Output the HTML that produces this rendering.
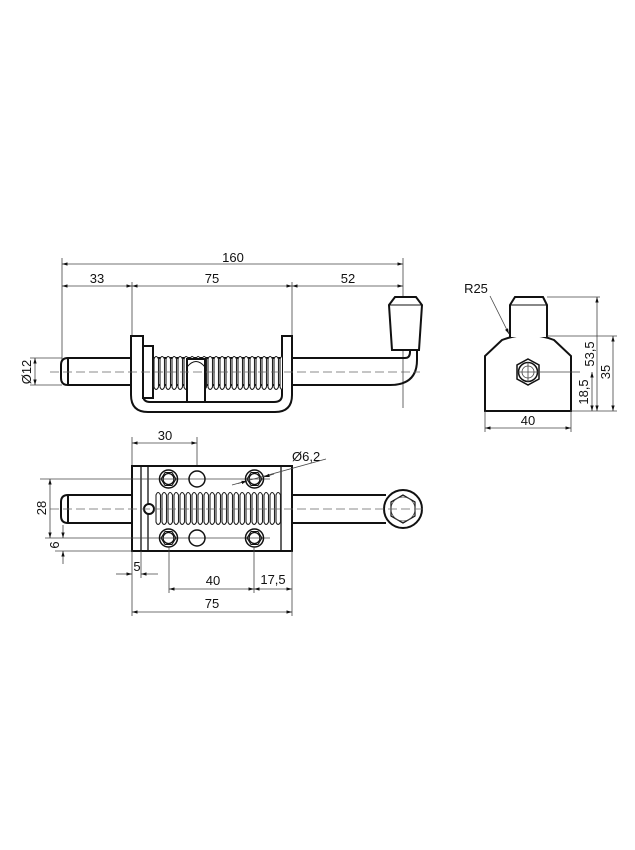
<!DOCTYPE html>
<html><head><meta charset="utf-8"><style>
html,body{margin:0;padding:0;background:#fff}
svg{display:block}
text{font-family:"Liberation Sans",sans-serif;font-size:13px;fill:#111}
.k{stroke:#111;stroke-width:2;fill:none}
.kf{stroke:#111;stroke-width:2;fill:#fff}
.t{stroke:#444;stroke-width:0.8;fill:none}
.c{stroke:#666;stroke-width:0.8;fill:none;stroke-dasharray:9 4}
</style></head><body>
<svg width="635" height="850" viewBox="0 0 635 850" xmlns="http://www.w3.org/2000/svg">
<defs>
<marker id="a" viewBox="0 0 10 10" refX="10" refY="5" markerWidth="7" markerHeight="7" orient="auto-start-reverse"><path d="M0,2 L10,5 L0,8 z" fill="#111"/></marker>
<pattern id="sp1" x="153" y="355" width="6" height="36" patternUnits="userSpaceOnUse"><path d="M1,4 Q3,-1 5.5,4 L5.5,32 Q3,37 1,32 Z" stroke="#222" stroke-width="1.1" fill="#fff"/></pattern>
<pattern id="sp2" x="155" y="491" width="6" height="35" patternUnits="userSpaceOnUse"><path d="M1,4 Q3,-1 5.5,4 L5.5,31 Q3,36 1,31 Z" stroke="#222" stroke-width="1.1" fill="#fff"/></pattern>
</defs>

<!-- ===== TOP VIEW ===== -->
<line class="t" x1="62" y1="258" x2="62" y2="360"/>
<line class="t" x1="403" y1="258" x2="403" y2="408"/>
<line class="t" x1="132" y1="282" x2="132" y2="336"/>
<line class="t" x1="292" y1="282" x2="292" y2="336"/>
<line class="t" x1="62" y1="264" x2="403" y2="264" marker-start="url(#a)" marker-end="url(#a)"/>
<text x="233" y="262" text-anchor="middle">160</text>
<line class="t" x1="62" y1="286" x2="132" y2="286" marker-start="url(#a)" marker-end="url(#a)"/>
<line class="t" x1="132" y1="286" x2="292" y2="286" marker-start="url(#a)" marker-end="url(#a)"/>
<line class="t" x1="292" y1="286" x2="403" y2="286" marker-start="url(#a)" marker-end="url(#a)"/>
<text x="97" y="283" text-anchor="middle">33</text>
<text x="212" y="283" text-anchor="middle">75</text>
<text x="348" y="283" text-anchor="middle">52</text>
<!-- Ø12 -->
<line class="t" x1="30" y1="358" x2="62" y2="358"/>
<line class="t" x1="30" y1="385" x2="62" y2="385"/>
<line class="t" x1="35" y1="358" x2="35" y2="385" marker-start="url(#a)" marker-end="url(#a)"/>
<text transform="translate(31,372) rotate(-90)" text-anchor="middle">Ø12</text>
<!-- pin + handle -->
<path class="k" d="M68,358 L405,358 Q410,358 410,352 L410,350 M68,385 L390,385 Q417,385 417,360 L417,350 M68,358 Q61,358 61,365 L61,378 Q61,385 68,385 M68,358 L68,385"/>
<path class="kf" d="M389,305 L395,297 L416,297 L422,305 L419,350 L392,350 Z"/>
<line class="k" x1="389" y1="305" x2="422" y2="305" style="stroke-width:1"/>
<!-- bracket -->
<path class="kf" d="M131,336 L143,336 L143,395 Q143,402 150,402 L274,402 Q282,402 282,395 L282,336 L292,336 L292,395 Q292,412 275,412 L148,412 Q131,412 131,395 Z"/>
<rect class="kf" x="143" y="346" width="10" height="52"/>
<rect x="153" y="355" width="129" height="36" fill="url(#sp1)" stroke="none"/>
<rect class="kf" x="187" y="359" width="18" height="43"/>
<path class="k" d="M187,367 Q196,356 205,367" style="stroke-width:1"/>
<line class="c" x1="50" y1="372" x2="420" y2="372"/>

<!-- ===== BOTTOM VIEW ===== -->
<line class="t" x1="132" y1="437" x2="132" y2="466"/>
<line class="t" x1="197" y1="437" x2="197" y2="470"/>
<line class="t" x1="132" y1="443" x2="197" y2="443" marker-start="url(#a)" marker-end="url(#a)"/>
<text x="165" y="440" text-anchor="middle">30</text>
<!-- pin -->
<path class="k" d="M68,495 L132,495 M68,523 L132,523 M68,495 Q61,495 61,502 L61,516 Q61,523 68,523 M68,495 L68,523 M292,495 L386,495 M292,523 L386,523"/>
<circle class="kf" cx="403" cy="509" r="19"/>
<polygon class="k" points="403,495 415,502 415,516 403,523 391,516 391,502" style="stroke-width:1.2"/>
<circle class="t" cx="403" cy="509" r="12"/>
<!-- body -->
<rect class="kf" x="132" y="466" width="160" height="85"/>
<line class="k" x1="141" y1="466" x2="141" y2="551" style="stroke-width:1.3"/>
<line class="k" x1="148" y1="466" x2="148" y2="551" style="stroke-width:1.3"/>
<line class="k" x1="281" y1="466" x2="281" y2="551" style="stroke-width:1.3"/>
<rect x="155" y="491" width="126" height="35" fill="url(#sp2)" stroke="none"/>
<circle class="kf" cx="149" cy="509" r="5"/>
<line class="c" x1="50" y1="509" x2="425" y2="509"/>
<line class="t" x1="40" y1="479" x2="270" y2="479"/>
<line class="t" x1="45" y1="538" x2="270" y2="538"/>
<!-- holes -->
<g>
<circle class="k" cx="168.5" cy="479" r="9" style="stroke-width:1.5"/><polygon class="k" points="161,479 165,472.5 172,472.5 176,479 172,485.5 165,485.5" style="stroke-width:1"/><circle class="k" cx="168.5" cy="479" r="5.5" style="stroke-width:1.3"/>
<circle class="k" cx="254.5" cy="479" r="9" style="stroke-width:1.5"/><polygon class="k" points="247,479 251,472.5 258,472.5 262,479 258,485.5 251,485.5" style="stroke-width:1"/><circle class="k" cx="254.5" cy="479" r="5.5" style="stroke-width:1.3"/>
<circle class="k" cx="168.5" cy="538" r="9" style="stroke-width:1.5"/><polygon class="k" points="161,538 165,531.5 172,531.5 176,538 172,544.5 165,544.5" style="stroke-width:1"/><circle class="k" cx="168.5" cy="538" r="5.5" style="stroke-width:1.3"/>
<circle class="k" cx="254.5" cy="538" r="9" style="stroke-width:1.5"/><polygon class="k" points="247,538 251,531.5 258,531.5 262,538 258,544.5 251,544.5" style="stroke-width:1"/><circle class="k" cx="254.5" cy="538" r="5.5" style="stroke-width:1.3"/>
<circle class="k" cx="197" cy="479" r="8" style="stroke-width:1.5"/>
<circle class="k" cx="197" cy="538" r="8" style="stroke-width:1.5"/>
</g>
<!-- Ø6,2 -->
<line class="t" x1="232" y1="485" x2="326" y2="459"/>
<line class="t" x1="238" y1="483.5" x2="247" y2="481" marker-end="url(#a)"/>
<line class="t" x1="274" y1="474" x2="264" y2="477" marker-end="url(#a)"/>
<text x="292" y="461">Ø6,2</text>
<!-- 28 & 6 -->
<line class="t" x1="50" y1="479" x2="50" y2="538" marker-start="url(#a)" marker-end="url(#a)"/>
<text transform="translate(46,508) rotate(-90)" text-anchor="middle">28</text>
<line class="t" x1="55" y1="551" x2="132" y2="551"/>
<line class="t" x1="63" y1="525" x2="63" y2="538" marker-end="url(#a)"/>
<line class="t" x1="63" y1="564" x2="63" y2="551" marker-end="url(#a)"/>
<text transform="translate(59,545) rotate(-90)" text-anchor="middle">6</text>
<!-- bottom dims -->
<line class="t" x1="132" y1="551" x2="132" y2="616"/>
<line class="t" x1="141" y1="551" x2="141" y2="578"/>
<line class="t" x1="169" y1="547" x2="169" y2="593"/>
<line class="t" x1="254" y1="547" x2="254" y2="593"/>
<line class="t" x1="292" y1="551" x2="292" y2="616"/>
<line class="t" x1="116" y1="574" x2="132" y2="574" marker-end="url(#a)"/>
<line class="t" x1="158" y1="574" x2="141" y2="574" marker-end="url(#a)"/>
<text x="137" y="571" text-anchor="middle">5</text>
<line class="t" x1="169" y1="589" x2="254" y2="589" marker-start="url(#a)" marker-end="url(#a)"/>
<line class="t" x1="254" y1="589" x2="292" y2="589" marker-start="url(#a)" marker-end="url(#a)"/>
<text x="213" y="585" text-anchor="middle">40</text>
<text x="273" y="584" text-anchor="middle">17,5</text>
<line class="t" x1="132" y1="612" x2="292" y2="612" marker-start="url(#a)" marker-end="url(#a)"/>
<text x="212" y="608" text-anchor="middle">75</text>

<!-- ===== SIDE VIEW ===== -->
<path class="kf" d="M485,411 L485,356 L502,340 Q528,330 554,340 L571,356 L571,411 Z"/>
<path class="kf" d="M510,337 L510,305 L515,297 L543,297 L547,305 L547,337"/>
<line class="k" x1="510" y1="305" x2="547" y2="305" style="stroke-width:1"/>
<polygon class="k" points="528,359 539,365 539,379 528,385 517,379 517,365" style="stroke-width:1.5"/>
<circle class="k" cx="528" cy="372" r="9.5" style="stroke-width:1.5"/>
<circle class="t" cx="528" cy="372" r="6"/>
<line class="t" x1="528" y1="362" x2="528" y2="382"/><line class="t" x1="518" y1="372" x2="580" y2="372"/>
<text x="476" y="293" text-anchor="middle">R25</text>
<line class="t" x1="490" y1="296" x2="509" y2="334" marker-end="url(#a)"/>
<line class="t" x1="547" y1="297" x2="600" y2="297"/>
<line class="t" x1="547" y1="336" x2="617" y2="336"/>
<line class="t" x1="571" y1="411" x2="617" y2="411"/>
<line class="t" x1="597" y1="297" x2="597" y2="411" marker-start="url(#a)" marker-end="url(#a)"/>
<line class="t" x1="613" y1="336" x2="613" y2="411" marker-start="url(#a)" marker-end="url(#a)"/>
<line class="t" x1="592" y1="372" x2="592" y2="411" marker-start="url(#a)" marker-end="url(#a)"/>
<text transform="translate(594,354) rotate(-90)" text-anchor="middle">53,5</text>
<text transform="translate(588,392) rotate(-90)" text-anchor="middle">18,5</text>
<text transform="translate(610,372) rotate(-90)" text-anchor="middle">35</text>
<line class="t" x1="485" y1="411" x2="485" y2="432"/>
<line class="t" x1="571" y1="411" x2="571" y2="432"/>
<line class="t" x1="485" y1="428" x2="571" y2="428" marker-start="url(#a)" marker-end="url(#a)"/>
<text x="528" y="425" text-anchor="middle">40</text>
</svg>
</body></html>
